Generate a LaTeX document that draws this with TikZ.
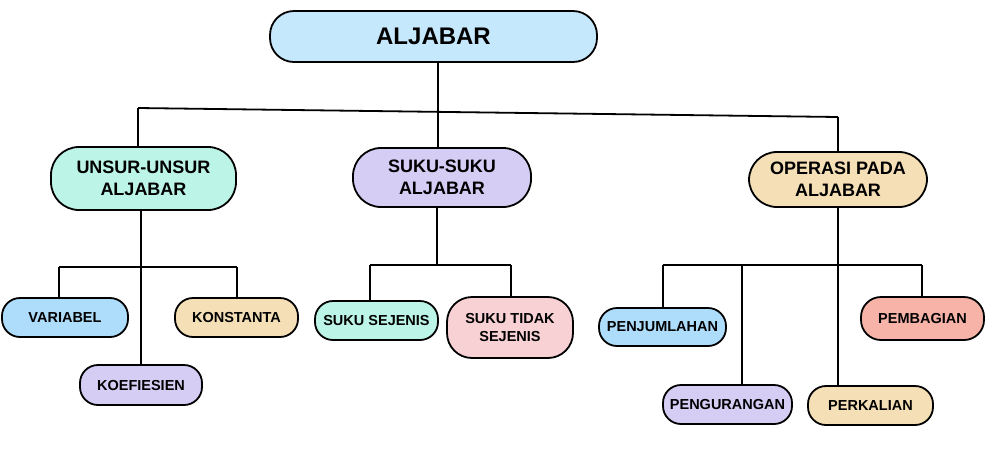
\documentclass[tikz,border=0pt]{standalone}
\usepackage{fontspec}
\setmainfont{Liberation Sans}
\definecolor{cBlueA}{HTML}{C6E8FC}
\definecolor{cBlueB}{HTML}{AEDDFC}
\definecolor{cMint}{HTML}{BCF5E7}
\definecolor{cLav}{HTML}{D6CDF5}
\definecolor{cWheat}{HTML}{F4DFB6}
\definecolor{cPink}{HTML}{F8D1D4}
\definecolor{cSalmon}{HTML}{F8B3A9}
\begin{document}
\begin{tikzpicture}[x=1pt,y=-1pt,
  box/.style={draw=black,line width=1.8pt,inner sep=0pt,align=center,font=\bfseries},
  top/.style={box,minimum width=327pt,minimum height=51pt,rounded corners=24pt,font=\bfseries\fontsize{24}{28}\selectfont},
  mid/.style={box,rounded corners=28pt,font=\bfseries\fontsize{18}{21.6}\selectfont},
  leaf/.style={box,minimum height=39pt,rounded corners=18pt,font=\bfseries\fontsize{14.5}{17.4}\selectfont},
  conn/.style={line width=1.8pt}]
\useasboundingbox (0,0) rectangle (993,451);
% nodes
\node[top,fill=cBlueA] (root) at (433.5,36.5) {ALJABAR};
\node[mid,fill=cMint,minimum width=185pt,minimum height=63pt] (unsur) at (143.5,178.5) {UNSUR-UNSUR\\ALJABAR};
\node[mid,fill=cLav,minimum width=178pt,minimum height=59pt] (suku) at (442,177.5) {SUKU-SUKU\\ALJABAR};
\node[mid,fill=cWheat,minimum width=178pt,minimum height=55pt] (op) at (838,179.5) {OPERASI PADA\\ALJABAR};
\node[leaf,fill=cBlueB,minimum width=126pt] (var) at (65,317.5) {VARIABEL};
\node[leaf,fill=cWheat,minimum width=123pt] (kons) at (236.5,317.5) {KONSTANTA};
\node[leaf,fill=cLav,minimum width=122pt,minimum height=40pt] (koef) at (141,385) {KOEFIESIEN};
\node[leaf,fill=cMint,minimum width=123pt] (sej) at (376.5,320.5) {SUKU SEJENIS};
\node[leaf,fill=cPink,minimum width=126pt,minimum height=61pt,rounded corners=25pt] (tsej) at (510,327.5) {SUKU TIDAK\\SEJENIS};
\node[leaf,fill=cBlueB,minimum width=127pt,minimum height=38pt] (jum) at (662.5,327) {PENJUMLAHAN};
\node[leaf,fill=cLav,minimum width=129pt] (kur) at (727.5,404.5) {PENGURANGAN};
\node[leaf,fill=cWheat,minimum width=125pt] (kal) at (870.5,405.5) {PERKALIAN};
\node[leaf,fill=cSalmon,minimum width=123pt,minimum height=43pt,rounded corners=20pt] (bagi) at (922.5,318.5) {PEMBAGIAN};
% junction coordinates
\coordinate (hl) at (138,108);
\coordinate (hr) at (838,117);
\coordinate (hm) at (438,111.9);
\coordinate (uj) at (140.7,267);
\coordinate (ul) at (59,267);
\coordinate (ur) at (237,267);
\coordinate (sj) at (437,265);
\coordinate (sl) at (370,265);
\coordinate (sr) at (511,265);
\coordinate (oj) at (838,265);
\coordinate (o1) at (663,265);
\coordinate (o2) at (742,265);
\coordinate (o4) at (922,265);
% connectors
\draw[conn] (root.south -| hm) -- (hm);
\draw[conn] (hl) -- (hr);
\draw[conn] (hl) -- (unsur.north -| hl);
\draw[conn] (suku.north -| hm) -- (hm);
\draw[conn] (hr) -- (op.north -| hr);
\draw[conn] (unsur.south -| uj) -- (koef.north -| uj);
\draw[conn] (ul) -- (ur);
\draw[conn] (ul) -- (var.north -| ul);
\draw[conn] (ur) -- (kons.north -| ur);
\draw[conn] (suku.south -| sj) -- (sj);
\draw[conn] (sl) -- (sr);
\draw[conn] (sl) -- (sej.north -| sl);
\draw[conn] (sr) -- (tsej.north -| sr);
\draw[conn] (op.south -| oj) -- (kal.north -| oj);
\draw[conn] (o1) -- (o4);
\draw[conn] (o1) -- (jum.north -| o1);
\draw[conn] (o2) -- (kur.north -| o2);
\draw[conn] (o4) -- (bagi.north -| o4);
\end{tikzpicture}
\end{document}
